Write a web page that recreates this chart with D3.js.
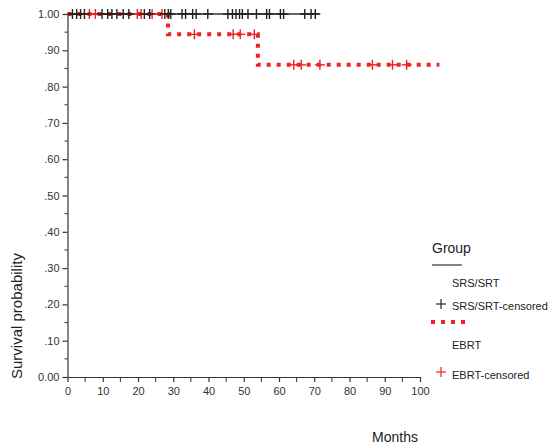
<title>Survival</title>
<script src="https://d3js.org/d3.v7.min.js"></script>
<style>
  body { margin: 0; background: #fff; font-family: "Liberation Sans", Arial, sans-serif; }
</style>
<body>
<div id="plot"></div>
</body>
<script>
// Kaplan-Meier curves, values
var srsSteps = [[0, 1.0], [71.5, 1.0]];
var srsCensored = [1.4, 2.6, 3.7, 4.8, 9.8, 11.4, 12.6, 14, 15.8, 17.4, 21.8, 23.3, 27.6, 28.6, 29.3,
  32.5, 33.5, 35.5, 36.5, 39.8, 45.5, 46.8, 47.8, 48.8, 49.6, 51.2, 53.6, 56.5, 57.3, 60.4, 61.3,
  67.3, 69.1, 70.3];
var ebrtSteps = [[0, 1.0], [28.5, 0.944], [54, 0.86], [105.5, 0.86]];
var ebrtCensored1 = [6.2, 7.9, 19.8, 20.9, 24.0, 26.8];
var ebrtCensored2 = [36, 47, 49, 53];
var ebrtCensored3 = [64.2, 66.3, 71.6, 86.5, 92.2, 96.2];
var yTicks = [0, 0.1, 0.2, 0.3, 0.4, 0.5, 0.6, 0.7, 0.8, 0.9, 1.0];
var xTicks = [0, 10, 20, 30, 40, 50, 60, 70, 80, 90, 100];
var legendItems = ["SRS/SRT", "SRS/SRT-censored", "EBRT", "EBRT-censored"];

var W = 560, H = 446;
var red = "#ee2222", black = "#222";

var svg = d3.select("#plot").append("svg")
    .attr("width", W).attr("height", H);

var x = d3.scaleLinear().domain([0, 100]).range([67.5, 420]);
var y = d3.scaleLinear().domain([0, 1]).range([377, 14]);

// y axis
var yAxis = svg.append("g")
    .attr("transform", "translate(67.5,0)")
    .call(d3.axisLeft(y).tickValues(yTicks).tickSize(5).tickSizeOuter(0)
        .tickFormat(function (d) {
            if (d === 0) return "0.00";
            if (d === 1) return "1.00";
            return d3.format(".2f")(d).replace(/^0/, "");
        }));
yAxis.append("g").selectAll("line")
    .data(d3.range(0.05, 1, 0.1))
    .enter().append("line")
    .attr("x1", -3).attr("x2", 0)
    .attr("y1", function (d) { return y(d); })
    .attr("y2", function (d) { return y(d); })
    .attr("stroke", "#333");

// x axis
var xAxis = svg.append("g")
    .attr("transform", "translate(0,377)")
    .call(d3.axisBottom(x).tickValues(xTicks).tickSize(5).tickSizeOuter(0));
xAxis.append("g").selectAll("line")
    .data(d3.range(5, 100, 10))
    .enter().append("line")
    .attr("x1", function (d) { return x(d); })
    .attr("x2", function (d) { return x(d); })
    .attr("y1", 0).attr("y2", 5)
    .attr("stroke", "#333");

svg.selectAll(".domain, .tick line").attr("stroke", "#333").attr("stroke-width", 1.2);
svg.selectAll(".tick text")
    .attr("font-size", 11)
    .attr("font-family", "Liberation Sans, Arial, sans-serif")
    .attr("fill", "#333");
yAxis.selectAll(".tick text").attr("x", -8);
xAxis.selectAll(".tick text").attr("y", 10);

// axis titles
svg.append("text")
    .attr("transform", "translate(22,379) rotate(-90)")
    .attr("font-size", 15)
    .attr("fill", "#222")
    .text("Survival probability");
svg.append("text")
    .attr("x", 418).attr("y", 442)
    .attr("text-anchor", "end")
    .attr("font-size", 14)
    .attr("fill", "#222")
    .text("Months");

var step = d3.line()
    .x(function (d) { return x(d[0]); })
    .y(function (d) { return y(d[1]); })
    .curve(d3.curveStepAfter);

// EBRT curve (dotted red)
svg.append("path")
    .datum(ebrtSteps)
    .attr("d", step)
    .attr("fill", "none")
    .attr("stroke", red)
    .attr("stroke-width", 4)
    .attr("stroke-dasharray", "4,6");

// SRS/SRT curve drawn on top
svg.append("path")
    .datum(srsSteps)
    .attr("d", step)
    .attr("fill", "none")
    .attr("stroke", "#333")
    .attr("stroke-width", 1.5);

function plus(g, cx, cy, s, color, w) {
    g.append("line").attr("x1", cx - s).attr("x2", cx + s).attr("y1", cy).attr("y2", cy)
        .attr("stroke", color).attr("stroke-width", w);
    g.append("line").attr("x1", cx).attr("x2", cx).attr("y1", cy - s).attr("y2", cy + s)
        .attr("stroke", color).attr("stroke-width", w);
}

var marks = svg.append("g");
ebrtCensored1.forEach(function (m) { plus(marks, x(m), y(1), 5, red, 1.4); });
srsCensored.forEach(function (m) { plus(marks, x(m), y(1), 5, black, 1.4); });
ebrtCensored2.forEach(function (m) { plus(marks, x(m), y(0.944), 5, red, 1.4); });
ebrtCensored3.forEach(function (m) { plus(marks, x(m), y(0.86), 5, red, 1.4); });

// legend
var lg = svg.append("g");
lg.append("text").attr("x", 432).attr("y", 253).attr("font-size", 14).attr("fill", "#222").text("Group");
lg.append("line").attr("x1", 432).attr("x2", 462).attr("y1", 265).attr("y2", 265)
    .attr("stroke", "#333").attr("stroke-width", 1.2);
plus(lg, 441, 304, 5, black, 1.2);
lg.append("line").attr("x1", 431).attr("x2", 465).attr("y1", 322).attr("y2", 322)
    .attr("stroke", red).attr("stroke-width", 4).attr("stroke-dasharray", "4,6");
plus(lg, 441, 372, 5, red, 1.2);
var legendY = [287, 310, 349, 379];
legendItems.forEach(function (t, i) {
    lg.append("text").attr("x", 452).attr("y", legendY[i])
        .attr("font-size", 11).attr("fill", "#222").text(t);
});
</script>
